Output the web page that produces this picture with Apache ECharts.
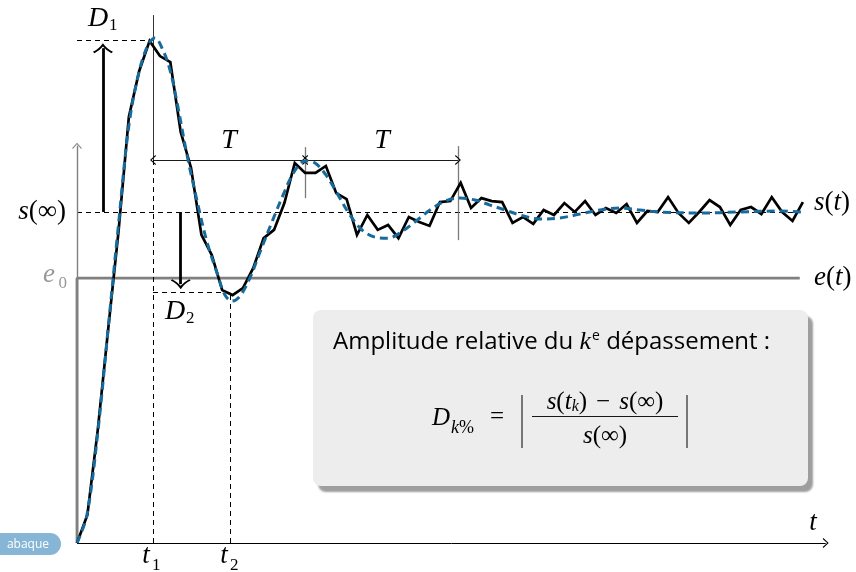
<!DOCTYPE html>
<html><head><meta charset="utf-8">
<script src="https://cdn.jsdelivr.net/npm/echarts@6/dist/echarts.min.js"></script>
<style>html,body{margin:0;padding:0;background:#fff}#c{width:856px;height:572px}</style>
</head><body><div id="c"></div>
<script>
// ---------- data (time in sample steps, output normalised so s(inf) = 1) ----------
const sMeasured = [0,0.085,0.341,0.644,0.940,1.287,1.426,1.517,1.471,1.453,
  1.242,1.133,0.931,0.870,0.764,0.749,0.770,0.831,0.921,0.946,
  1.027,1.148,1.118,1.118,1.139,1.057,1.039,0.931,0.991,0.946,
  0.961,0.921,0.985,0.970,0.958,1.030,1.033,1.088,1.012,1.042,
  1.033,1.030,0.967,0.985,0.964,1.006,0.991,1.027,1.000,1.033,
  0.991,1.012,0.997,1.024,0.967,1.003,1.000,1.045,0.997,0.967,
  1.000,1.036,1.015,0.961,1.006,1.015,0.994,1.045,1.000,0.973,1.030];
const tIdeal = [0,0.96,2.03,2.99,3.95,5.01,5.98,6.85,7.52,8.29,8.97,9.64,10.61,11.67,12.54,13.60,
  14.27,14.95,15.72,16.68,17.65,18.80,19.87,20.93,21.99,22.95,24.01,25.07,26.32,27.48,28.74,
  29.99,31.15,32.59,34.04,35.49,36.93,38.38,39.83,41.27,42.72,44.65,46.58,48.51,50.43,52.36,
  54.29,56.22,60.08,63.93,67.79,69.91];
const sIdeal = [0,0.085,0.341,0.644,0.946,1.263,1.423,1.505,1.526,1.489,1.429,1.332,1.172,1.021,
  0.909,0.807,0.749,0.731,0.746,0.801,0.879,0.970,1.051,1.121,1.154,1.148,1.112,1.057,0.991,
  0.946,0.924,0.921,0.937,0.970,1.006,1.033,1.042,1.036,1.021,1.006,0.991,0.979,0.982,0.994,
  1.006,1.012,1.006,1.000,0.997,1.000,1.003,1.000];
const sInf = 1, e0 = 0.8;
const t1 = 7.33, t2 = 14.75;
const sPeak1 = 1.52, sTrough1 = 0.758;
const periodMarks = [7.33, 22, 36.74];
const periodLevel = 1.157;
const periodTick2 = [1.042, 1.196], periodTick3 = [0.915, 1.199];
const t1LineTop = 1.595;
const d1ArrowT = 2.5, d1ArrowEnd = 1.495;
const d2ArrowT = 10, d2ArrowEnd = 0.782;
const tEnd = 69.7, tAxisEnd = 72.2, sAxisEnd = 1.2;

// ---------- styles ----------
const serif = "'Liberation Serif','DejaVu Serif',serif";
const sans = "'Open Sans','DejaVu Sans',sans-serif";
const thinHead = {path:'path://M5,0 L10,7 L9,7.8 L5,2 L1,7.8 L0,7 Z', size:[10,6]};
const thickHead = {path:'path://M10,0 Q14,6 20,9 L18.5,10.5 Q13,7.5 10,3.5 Q7,7.5 1.5,10.5 L0,9 Q6,6 10,0 Z', size:[20,10]};
function end(coord, head){ return {coord, symbol: head ? head.path : 'none', symbolSize: head ? head.size : 1}; }
function seg(a, b, ha, hb){ return [end(a, ha), end(b, hb)]; }
function marks(name, lineStyle, data, z){
  return {type:'line', name, data:[], z: z||3, clip:false, silent:true,
    markLine:{silent:true, animation:false, symbol:['none','none'], label:{show:false},
      emphasis:{disabled:true}, lineStyle, data}};
}

const chart = echarts.init(document.getElementById('c'), null, {renderer:'canvas'});
const option = {
  animation:false,
  backgroundColor:'#fff',
  grid:{left:77, right:27.2, top:13.4, bottom:29},
  xAxis:{type:'value', min:0, max:72.5, show:false},
  yAxis:{type:'value', min:0, max:1.6, show:false},
  series:[
    marks('dashed', {color:'#000', width:1, type:[5,4]}, [
      seg([0,sInf],[tEnd,sInf]),
      seg([0,sPeak1],[t1,sPeak1]),
      seg([t1,0],[t1,periodLevel]),
      seg([t2,0],[t2,sTrough1]),
      seg([t1,sTrough1],[t2,sTrough1])
    ]),
    marks('t1top', {color:'#000', width:0.8, type:'solid'}, [ seg([t1,periodLevel],[t1,t1LineTop]) ]),
    marks('ticks', {color:'#7a7a7a', width:1.3, type:'solid'}, [
      seg([periodMarks[1],periodTick2[0]],[periodMarks[1],periodTick2[1]]),
      seg([periodMarks[2],periodTick3[0]],[periodMarks[2],periodTick3[1]])
    ]),
    marks('period', {color:'#000', width:0.9, type:'solid'}, [
      seg([periodMarks[0],periodLevel],[periodMarks[1],periodLevel], thinHead, thinHead),
      seg([periodMarks[1],periodLevel],[periodMarks[2],periodLevel], thinHead, thinHead)
    ]),
    marks('axes', {color:'#000', width:1, type:'solid'}, [ seg([0,0],[tAxisEnd,0], null, thinHead) ]),
    marks('yaxis', {color:'#808080', width:1.4, type:'solid'}, [ seg([0,0],[0,sAxisEnd], null, thinHead) ]),
    marks('Darrows', {color:'#000', width:2.8, type:'solid'}, [
      seg([d1ArrowT,sInf],[d1ArrowT,d1ArrowEnd], null, thickHead),
      seg([d2ArrowT,sInf],[d2ArrowT,d2ArrowEnd], null, thickHead)
    ], 6),
    {type:'line', name:'e(t)', data:[[0,0],[0,e0],[tEnd,e0]], showSymbol:false, silent:true, z:4,
      lineStyle:{color:'#808080', width:2.8}},
    {type:'line', name:'s(t)', data:sMeasured.map((v,i)=>[i,v]), showSymbol:false, silent:true, z:5,
      lineStyle:{color:'#000', width:2.7, join:'miter'}},
    {type:'line', name:'ideal', data:tIdeal.map((t,i)=>[t,sIdeal[i]]), showSymbol:false, silent:true, z:6,
      smooth:0.35, lineStyle:{color:'#176b9c', width:3, type:[8,5]}}
  ]
};
chart.setOption(option);

// ---------- annotations ----------
function txt(x, y, text, o){
  return {type:'text', x, y, z:100, silent:true, style:Object.assign({text, fill:'#000',
    fontFamily:serif, fontSize:27, fontStyle:'italic', align:'left', verticalAlign:'middle'}, o||{})};
}
const mathRich = {
  i:{fontFamily:serif, fontStyle:'italic', fontSize:27, fill:'#000'},
  r:{fontFamily:serif, fontStyle:'normal', fontSize:27, fill:'#000'}
};
const fRich = {
  i:{fontFamily:serif, fontStyle:'italic', fontSize:25, fill:'#000'},
  r:{fontFamily:serif, fontStyle:'normal', fontSize:25, fill:'#000'},
  m:{fontFamily:serif, fontStyle:'normal', fontSize:25, fill:'#000', padding:[0,9,0,9]},
  sub:{fontFamily:serif, fontStyle:'italic', fontSize:16, fill:'#000', verticalAlign:'bottom', padding:[9,0,0,0]}
};
const graphics = [
  // label badge
  {type:'rect', shape:{x:-20, y:533, width:81, height:22, r:11}, style:{fill:'#86b5d5'}, z:90},
  txt(28, 545, 'abaque', {fontFamily:sans, fontStyle:'normal', fontSize:12, fill:'#fff', align:'center'}),
  // left labels
  txt(66, 212, '{i|s}{r|(∞)}', {align:'right', rich:mathRich}),
  txt(55, 275, 'e', {align:'right', fill:'#999'}),
  txt(67, 284, '0', {align:'right', fill:'#999', fontStyle:'normal', fontSize:17}),
  // right labels
  txt(814, 203, '{i|s}{r|(}{i|t}{r|)}', {rich:mathRich}),
  txt(814, 278, '{i|e}{r|(}{i|t}{r|)}', {rich:mathRich}),
  txt(813, 523, 't', {align:'center'}),
  // t1, t2
  txt(146, 556, 't', {align:'center'}),
  txt(152, 566, '1', {fontStyle:'normal', fontSize:17}),
  txt(224, 556, 't', {align:'center'}),
  txt(230, 566, '2', {fontStyle:'normal', fontSize:17}),
  // D1, D2
  txt(88, 19, 'D', {fontSize:28}),
  txt(109, 26, '1', {fontStyle:'normal', fontSize:17}),
  txt(165, 312, 'D', {fontSize:28}),
  txt(186, 319, '2', {fontStyle:'normal', fontSize:17}),
  // T labels
  txt(229, 141, 'T', {align:'center', fontSize:28}),
  txt(382, 141, 'T', {align:'center', fontSize:28}),
  // info box
  {type:'rect', shape:{x:313, y:310, width:495, height:176, r:8}, z:80,
    style:{fill:'#ededed', shadowColor:'rgba(0,0,0,0.38)', shadowOffsetX:5, shadowOffsetY:6, shadowBlur:2}},
  txt(333, 342, '{a|Amplitude relative du }{k|k}{sup|e}{a| dépassement :}', {rich:{
    a:{fontFamily:sans, fontSize:24, fill:'#000'},
    k:{fontFamily:serif, fontStyle:'italic', fontSize:26, fill:'#000'},
    sup:{fontFamily:sans, fontSize:14, fill:'#000', verticalAlign:'top', padding:[0,0,12,1]}
  }}),
  txt(432, 418, 'D', {fontSize:25}),
  txt(451, 428, '{i|k}{r|%}', {rich:{i:{fontFamily:serif, fontStyle:'italic', fontSize:18}, r:{fontFamily:serif, fontSize:18}}}),
  txt(497, 417, '=', {fontStyle:'normal', fontSize:25, align:'center'}),
  {type:'line', shape:{x1:522, y1:395, x2:522, y2:448}, style:{stroke:'#000', lineWidth:1}, z:100},
  {type:'line', shape:{x1:687, y1:395, x2:687, y2:448}, style:{stroke:'#000', lineWidth:1}, z:100},
  {type:'line', shape:{x1:532, y1:416.5, x2:678, y2:416.5}, style:{stroke:'#000', lineWidth:0.9}, z:100},
  txt(605, 402, '{i|s}{r|(}{i|t}{sub|k}{r|)}{m|−}{i|s}{r|(∞)}', {align:'center', rich:fRich}),
  txt(605, 436, '{i|s}{r|(∞)}', {align:'center', rich:fRich})
];
chart.setOption({graphic:{elements:graphics}});
</script></body></html>
